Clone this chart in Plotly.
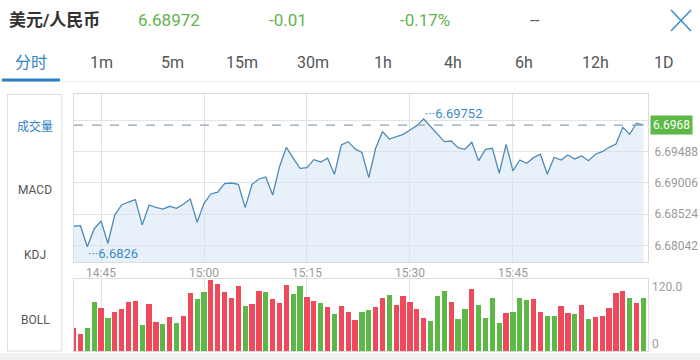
import plotly.graph_objects as go
import pandas as pd

# ---------------- data ----------------
trade_date = "2018-10-10"
start_time = "14:41"
header_pair = "美元/人民币"
header_price = "6.68972"
header_change = "-0.01"
header_pct = "-0.17%"
header_extra = "--"
tabs = ["分时", "1m", "5m", "15m", "30m", "1h", "4h", "6h", "12h", "1D"]
side_labels = ["成交量", "MACD", "KDJ", "BOLL"]
x_tick_labels = ["14:45", "15:00", "15:15", "15:30", "15:45"]

prices = [
    6.68498, 6.68505, 6.68260, 6.68467, 6.68560, 6.68300, 6.68630, 6.68747, 6.68782, 6.68809,
    6.68514, 6.68747, 6.68720, 6.68700, 6.68732, 6.68709, 6.68755, 6.68817, 6.68545, 6.68767,
    6.68876, 6.68896, 6.68996, 6.69004, 6.68989, 6.68716, 6.68989, 6.69051, 6.69074, 6.68864,
    6.69195, 6.69421, 6.69293, 6.69176, 6.69183, 6.69277, 6.69250, 6.69293, 6.69106, 6.69448,
    6.69487, 6.69402, 6.69360, 6.69066, 6.69410, 6.69604, 6.69518, 6.69545, 6.69573, 6.69624,
    6.69674, 6.69752, 6.69662, 6.69573, 6.69487, 6.69495, 6.69417, 6.69398, 6.69480, 6.69265,
    6.69398, 6.69410, 6.69118, 6.69456, 6.69145, 6.69273, 6.69234, 6.69300, 6.69340, 6.69106,
    6.69305, 6.69273, 6.69331, 6.69285, 6.69320, 6.69265, 6.69340, 6.69370, 6.69421, 6.69460,
    6.69655, 6.69573, 6.69702, 6.69680,
]

volumes = [
    37.9, 27.9, 37.4, 82.0, 71.4, 55.2, 64.2, 69.2, 81.5, 83.7,
    42.4, 78.1, 48.5, 45.2, 56.4, 46.3, 58.6, 96.5, 86.5, 98.8,
    118.3, 112.2, 97.7, 87.6, 107.7, 74.2, 78.7, 99.9, 97.7, 85.9,
    79.2, 109.4, 95.4, 107.7, 89.8, 83.7, 79.8, 73.7, 61.9, 75.3,
    65.3, 51.9, 64.7, 68.1, 72.5, 88.7, 93.7, 75.9, 92.1, 80.9,
    69.2, 54.1, 49.1, 92.1, 99.3, 82.0, 53.0, 69.8, 103.8, 76.4,
    54.1, 88.7, 46.3, 63.1, 65.3, 88.7, 85.4, 87.0, 65.3, 58.6,
    57.5, 75.3, 63.1, 61.4, 76.4, 53.0, 56.4, 58.0, 71.4, 96.5,
    99.9, 87.6, 79.2, 88.7,
]

# R = red bar, G = green bar
volume_dir = list(
    "RRGGRGRRRRGRRGRGRRGGRRRRRGRRGRRRGGRRGRGRRRGGR"
    "RGRRRRRGGGRGGRGGGGRGGGRRGGRRGRGRRRRRGRG"
)

price_ticktext = ["6.68042", "6.68524", "6.69006", "6.69488", ""]
vol_ticktext = ["0", "120.0"]
vol_max = 120.0

# ---------------- styling ----------------
RED = "#ef4a5b"
GREEN = "#5cb947"
BLUE = "#2f84c4"
GRID = "#e3e3e3"
FONT = "Roboto, 'Noto Sans CJK SC', sans-serif"

W, H = 700, 360
ML, MR, MT, MB = 74, 52, 94, 9
PW = W - ML - MR
PH = H - MT - MB


def px(x):
    return (x - ML) / PW


def py(y):
    return (H - MB - y) / PH


times = pd.date_range(f"{trade_date} {start_time}", periods=len(prices), freq="min")
bar_colors = [RED if d == "R" else GREEN for d in volume_dir]
x_tickvals = [pd.Timestamp(f"{trade_date} {t}") for t in x_tick_labels]

x_start = times[0] + pd.Timedelta(seconds=4)
x_end = times[0] + pd.Timedelta(seconds=5020)

y_lo, y_hi = 6.68081, 6.70044
grid0, grid_step = 6.68276, 0.003645
price_tickvals = [grid0 + k * grid_step for k in range(len(price_ticktext))]

fig = go.Figure()

fig.add_trace(go.Scatter(
    x=times, y=prices, mode="lines",
    line=dict(color="#4f8bb6", width=1.3),
    fill="tozeroy", fillcolor="rgba(214,230,245,0.55)",
    xaxis="x", yaxis="y", hoverinfo="skip",
))

fig.add_trace(go.Bar(
    x=times, y=volumes, marker=dict(color=bar_colors, line=dict(width=0)),
    width=46000, xaxis="x2", yaxis="y2", hoverinfo="skip",
))

axis_common = dict(showline=True, mirror=True, linecolor="#dcdcdc", linewidth=1,
                   zeroline=False, ticks="", automargin=False)

fig.update_layout(
    width=W, height=H,
    margin=dict(l=ML, r=MR, t=MT, b=MB, autoexpand=False),
    paper_bgcolor="white", plot_bgcolor="white",
    showlegend=False,
    font=dict(family=FONT, color="#999999", size=12),
    xaxis=dict(
        domain=[0, 1], anchor="y", type="date", range=[x_start, x_end],
        tickvals=x_tickvals, ticktext=x_tick_labels,
        showgrid=True, gridcolor=GRID, gridwidth=1,
        tickfont=dict(size=12, color="#9a9a9a"),
        **axis_common,
    ),
    xaxis2=dict(
        domain=[0, 1], anchor="y2", type="date", matches="x",
        tickvals=x_tickvals, showticklabels=False, showgrid=True, gridcolor=GRID,
        **axis_common,
    ),
    yaxis=dict(
        domain=[py(262), 1], anchor="x", side="right",
        range=[y_lo, y_hi], tickvals=price_tickvals, ticktext=price_ticktext,
        showgrid=True, gridcolor=GRID,
        tickfont=dict(size=12, color="#9a9a9a"), ticklabelstandoff=3,
        **axis_common,
    ),
    yaxis2=dict(
        domain=[0, py(279.3)], anchor="x2", side="right",
        range=[0, vol_max], showticklabels=False, showgrid=False,
        **axis_common,
    ),
    bargap=0,
)

shapes = []
annotations = []

# last price dashed line
last = prices[-1]
shapes.append(dict(type="line", xref="paper", yref="y", x0=0, x1=1, y0=last, y1=last,
                   line=dict(color="#8aa3b8", width=1.2, dash="dash"), layer="above"))


def fmt(v):
    return f"{v:.5f}".rstrip("0")


annotations.append(dict(xref="paper", yref="y", x=1, y=last, xanchor="left", yanchor="middle",
                        xshift=2, text=fmt(last), showarrow=False,
                        bgcolor=GREEN, borderpad=2, font=dict(color="white", size=12)))

imax = max(range(len(prices)), key=lambda i: prices[i])
imin = min(range(len(prices)), key=lambda i: prices[i])
annotations.append(dict(xref="x", yref="y", x=times[imax], y=prices[imax], xanchor="left",
                        yanchor="middle", yshift=5, xshift=-1, text="···" + fmt(prices[imax]),
                        showarrow=False, font=dict(color="#3a8ac4", size=13)))
annotations.append(dict(xref="x", yref="y", x=times[imin], y=prices[imin], xanchor="left",
                        yanchor="middle", yshift=-7, xshift=-1, text="···" + fmt(prices[imin]),
                        showarrow=False, font=dict(color="#3a8ac4", size=13)))

# volume axis labels
annotations.append(dict(xref="paper", yref="y2", x=1, y=vol_max, xanchor="left", yanchor="top",
                        xshift=2, yshift=1, text=vol_ticktext[1], showarrow=False,
                        font=dict(size=12, color="#9a9a9a")))
annotations.append(dict(xref="paper", yref="y2", x=1, y=0, xanchor="left", yanchor="bottom",
                        xshift=2, yshift=-2, text=vol_ticktext[0], showarrow=False,
                        font=dict(size=12, color="#9a9a9a")))

# header
annotations.append(dict(xref="paper", yref="paper", x=px(7), y=py(20), xanchor="left",
                        yanchor="middle", text=f"<b>{header_pair}</b>", showarrow=False,
                        font=dict(size=17, color="#333333")))
for txt, xl, col in [(header_price, 136, "#62b44e"), (header_change, 267, "#62b44e"),
                     (header_pct, 398, "#62b44e"), (header_extra, 528, "#555555")]:
    annotations.append(dict(xref="paper", yref="paper", x=px(xl), y=py(20), xanchor="left",
                            yanchor="middle", text=txt, showarrow=False,
                            font=dict(size=17, color=col)))
# close icon
shapes.append(dict(type="line", xref="paper", yref="paper", x0=px(671), y0=py(10),
                   x1=px(691), y1=py(31), line=dict(color="#3d8fd1", width=1.6)))
shapes.append(dict(type="line", xref="paper", yref="paper", x0=px(691), y0=py(10),
                   x1=px(671), y1=py(31), line=dict(color="#3d8fd1", width=1.6)))

# tabs
tab_centers = [31, 101, 172, 242, 313, 383, 453, 524, 595, 664]
for t, cx in zip(tabs, tab_centers):
    annotations.append(dict(xref="paper", yref="paper", x=px(cx), y=py(62), xanchor="center",
                            yanchor="middle", text=t, showarrow=False,
                            font=dict(size=16, color=BLUE if t == "分时" else "#555555")))
shapes.append(dict(type="line", xref="paper", yref="paper", x0=px(0), x1=px(700),
                   y0=py(81.5), y1=py(81.5), line=dict(color="#eeeeee", width=1)))
shapes.append(dict(type="line", xref="paper", yref="paper", x0=px(2), x1=px(60),
                   y0=py(80), y1=py(80), line=dict(color="#2f7fbf", width=3)))

# left indicator panel
shapes.append(dict(type="rect", xref="paper", yref="paper", x0=px(7.5), x1=px(62),
                   y0=py(351), y1=py(94.5), line=dict(color="#dddddd", width=1)))
for lbl, cy in zip(side_labels, [126, 190, 255, 320]):
    annotations.append(dict(xref="paper", yref="paper", x=px(35), y=py(cy), xanchor="center",
                            yanchor="middle", text=lbl, showarrow=False,
                            font=dict(size=12, color=BLUE if lbl == "成交量" else "#555555")))

# bottom strip
shapes.append(dict(type="rect", xref="paper", yref="paper", x0=px(0), x1=px(700),
                   y0=py(360), y1=py(353), line=dict(width=0), fillcolor="#f1f1f1"))

fig.update_layout(shapes=shapes, annotations=annotations)

fig.write_html(
    "out.html",
    config={"displayModeBar": False},
    post_script="document.body.style.margin='0';document.body.style.padding='0';"
                "document.body.style.overflow='hidden';",
)
